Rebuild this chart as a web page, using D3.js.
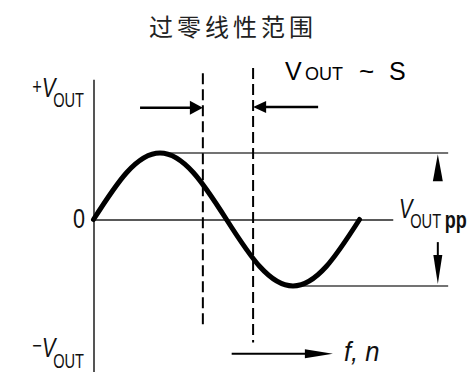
<!DOCTYPE html>
<html><head><meta charset="utf-8">
<script src="https://cdn.jsdelivr.net/npm/d3@7"></script>
<style>html,body{margin:0;padding:0;background:#fff;}svg{display:block;}</style>
</head><body>
<svg id="c" width="476" height="372"></svg>
<script>
// ---- data ----
const title = "过零线性范围";
const phaseDeg = [0, 45, 90, 135, 180, 225, 270, 315, 360];
const vout = [0, 0.707, 1, 0.707, 0, -0.707, -1, -0.707, 0];
const linearBounds = [148, 216];          // dashed lines (phase)
const yLabelTop = ["+", "V", "OUT"];
const yLabelZero = "0";
const yLabelBottom = ["\u2212", "V", "OUT"];
const ppLabel = ["V", "OUT", "pp"];
const xLabel = "f, n";
const sensLabel = ["V", "OUT", "~", "S"];

// ---- scales ----
const svg = d3.select("#c");
const x = d3.scaleLinear().domain([0, 360]).range([93.5, 359.5]);
const y = d3.scaleLinear().domain([-1, 1]).range([286, 153]);

// title
svg.append("text").attr("x", 233).attr("y", 36).attr("text-anchor", "middle")
  .attr("font-family", "'Noto Sans CJK SC'").attr("font-size", 24)
  .attr("letter-spacing", 4).attr("fill", "#222").text(title);

// y axis (vertical line)
const yAxisScale = d3.scaleLinear().domain([-2.29, 2.11]).range([y(-2.29), y(2.11)]);
svg.append("g").attr("transform", `translate(${x(0)},0)`)
  .call(d3.axisLeft(yAxisScale).tickValues([]).tickSizeOuter(0))
  .call(g => g.select(".domain").attr("stroke", "#555").attr("stroke-width", 2));

// zero line
const zeroScale = d3.scaleLinear().domain([0, 405]).range([x(0), x(405)]);
svg.append("g").attr("transform", `translate(0,${y(0)})`)
  .call(d3.axisBottom(zeroScale).tickValues([]).tickSizeOuter(0))
  .call(g => g.select(".domain").attr("stroke", "#222").attr("stroke-width", 1.5));

// peak / trough reference lines
svg.append("line").attr("x1", x(90)).attr("x2", x(480)).attr("y1", y(1)).attr("y2", y(1))
  .attr("stroke", "#444").attr("stroke-width", 1.5);
svg.append("line").attr("x1", x(270)).attr("x2", x(480)).attr("y1", y(-1)).attr("y2", y(-1))
  .attr("stroke", "#444").attr("stroke-width", 1.5);

// dashed lines
svg.append("line").attr("x1", x(linearBounds[0])).attr("x2", x(linearBounds[0]))
  .attr("y1", y(2.2)).attr("y2", y(-1.61))
  .attr("stroke", "#000").attr("stroke-width", 2).attr("stroke-dasharray", "11,5");
svg.append("line").attr("x1", x(linearBounds[1])).attr("x2", x(linearBounds[1]))
  .attr("y1", y(2.28)).attr("y2", y(-1.85))
  .attr("stroke", "#000").attr("stroke-width", 2).attr("stroke-dasharray", "11,5");

// sine curve
const pts = phaseDeg.map((p, i) => [p, vout[i]]);
svg.append("path").datum(pts)
  .attr("d", d3.line().x(d => x(d[0])).y(d => y(d[1])).curve(d3.curveNatural))
  .attr("fill", "none").attr("stroke", "#000").attr("stroke-width", 5)
  .attr("stroke-linecap", "round");

// arrows helper
function arrow(x1, y1, x2, y2, headLen, halfW, sw) {
  const dx = x2 - x1, dy = y2 - y1, L = Math.hypot(dx, dy);
  const ux = dx / L, uy = dy / L;
  const bx = x2 - ux * headLen, by = y2 - uy * headLen;
  svg.append("line").attr("x1", x1).attr("y1", y1).attr("x2", bx + ux).attr("y2", by + uy)
    .attr("stroke", "#000").attr("stroke-width", sw);
  svg.append("path").attr("d", d3.line()([[x2, y2], [bx - uy * halfW, by + ux * halfW], [bx + uy * halfW, by - ux * halfW]]) + "Z")
    .attr("fill", "#000");
}
arrow(x(63), y(1.68), x(linearBounds[0]), y(1.68), 13, 7, 2.5);
arrow(x(304), y(1.69), x(linearBounds[1]), y(1.69), 13, 6, 2.5);
arrow(x(466), y(0.66), x(466), y(0.98), 27, 5, 2);
arrow(x(466), y(-0.34), x(466), y(-0.97), 29, 4.5, 2);
arrow(x(187), y(-2.02), x(324), y(-2.02), 28, 4.5, 2);

// condensed labels (horizontally compressed Liberation Sans)
const nf = "'Liberation Sans', Arial, sans-serif";
function cLabel(xp, yp, anchor, sx) {
  return svg.append("g").attr("transform", `translate(${xp},${yp}) scale(${sx},1)`)
    .append("text").attr("text-anchor", anchor).attr("font-family", nf).attr("fill", "#111");
}
let t = cLabel(84, 97, "end", 0.75);
t.append("tspan").attr("font-size", 22).attr("dy", -3).text(yLabelTop[0]);
t.append("tspan").attr("font-size", 27).attr("font-style", "italic").attr("dy", 3).text(yLabelTop[1]);
t.append("tspan").attr("font-size", 19.5).attr("dy", 10).attr("dx", -3).text(yLabelTop[2]);

t = cLabel(85, 228, "end", 0.8);
t.attr("font-size", 27).text(yLabelZero);

t = cLabel(84, 357, "end", 0.75);
t.append("tspan").attr("font-size", 22).attr("dy", -4).text(yLabelBottom[0]);
t.append("tspan").attr("font-size", 27).attr("font-style", "italic").attr("dy", 4).text(yLabelBottom[1]);
t.append("tspan").attr("font-size", 19.5).attr("dy", 11).attr("dx", -3).text(yLabelBottom[2]);

t = cLabel(399, 218, "start", 0.75);
t.append("tspan").attr("font-size", 27).attr("font-style", "italic").text(ppLabel[0]);
t.append("tspan").attr("font-size", 19.5).attr("dy", 10).attr("dx", -3).text(ppLabel[1]);
t.append("tspan").attr("font-size", 24).attr("font-weight", "bold").attr("dx", 5).text(ppLabel[2]);

t = cLabel(344, 361, "start", 0.95);
t.attr("font-size", 27).attr("font-style", "italic").text(xLabel);

// V_OUT ~ S
t = svg.append("text").attr("y", 80).attr("font-family", nf).attr("fill", "#000");
t.append("tspan").attr("x", 285).attr("font-size", 25).text(sensLabel[0]);
t.append("tspan").attr("x", 305).attr("font-size", 18).text(sensLabel[1]);
t.append("tspan").attr("x", 359).attr("font-size", 26).text(sensLabel[2]);
t.append("tspan").attr("x", 389).attr("font-size", 25).text(sensLabel[3]);
</script>
</body></html>
